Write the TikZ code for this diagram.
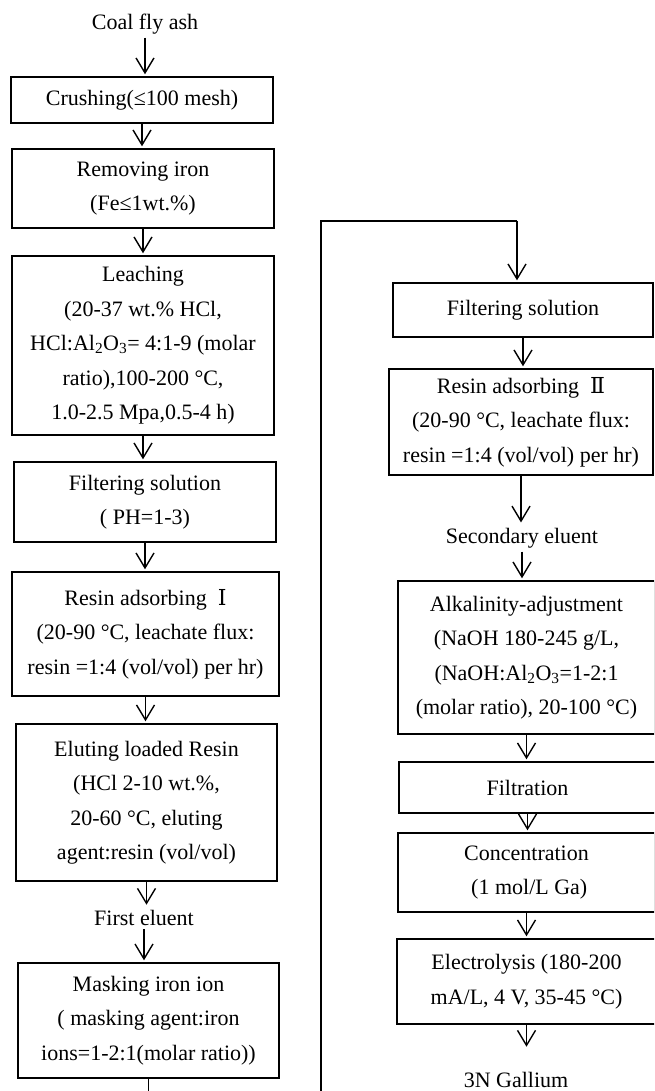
\documentclass[tikz,border=0pt]{standalone}
\usepackage{fontspec}
\setmainfont{Liberation Serif}
\newfontfamily\romanum{DejaVu Serif}
\usetikzlibrary{arrows.meta}
\begin{document}
\begin{tikzpicture}[x=1pt,y=-1pt,
  every node/.style={font=\fontsize{22}{34.5}\selectfont, align=center},
  stepbox/.style={draw, line width=1.4pt, inner sep=0pt},
  flow/.style={line width=1.4pt, -{Straight Barb[length=15pt,width=18pt]}, shorten >=2pt},
  wire/.style={line width=1.4pt}]
\useasboundingbox (0,0) rectangle (654,1091);
\clip (0,0) rectangle (654,1091);

% left column
\node (coal) at (145,24) {Coal fly ash};
\node[stepbox, minimum width=262pt, minimum height=46pt] (crush) at (142,100)
  {Crushing(≤100 mesh)};
\node[stepbox, minimum width=262pt, minimum height=79pt] (remove) at (143,188.5)
  {Removing iron\\(Fe≤1wt.\%)};
\node[stepbox, minimum width=262pt, minimum height=179pt] (leach) at (143,345.5)
  {Leaching\\(20-37 wt.\% HCl,\\HCl:Al\textsubscript{2}O\textsubscript{3}= 4:1-9 (molar\\ratio),100-200 °C,\\1.0-2.5 Mpa,0.5-4 h)};
\node[stepbox, minimum width=262pt, minimum height=80pt] (filtA) at (145,502)
  {Filtering solution\\( PH=1-3)};
\node[stepbox, minimum width=267pt, minimum height=124pt] (resinA) at (145.5,634)
  {Resin adsorbing\ \ {\romanum Ⅰ}\\(20-90 °C, leachate flux:\\resin =1:4 (vol/vol) per hr)};
\node[stepbox, minimum width=261pt, minimum height=157pt] (elute) at (146.5,802.5)
  {Eluting loaded Resin\\(HCl 2-10 wt.\%,\\20-60 °C, eluting\\agent:resin (vol/vol)};
\node (first) at (144,918) {First eluent};
\node[stepbox, minimum width=261pt, minimum height=115pt] (mask) at (148.5,1020.5)
  {Masking iron ion\\( masking agent:iron\\ions=1-2:1(molar ratio))};

% right column
\node[stepbox, minimum width=260pt, minimum height=54pt] (filtB) at (523,310)
  {Filtering solution};
\node[stepbox, minimum width=264pt, minimum height=106pt] (resinB) at (521,422)
  {Resin adsorbing\ \ {\romanum Ⅱ}\\(20-90 °C, leachate flux:\\resin =1:4 (vol/vol) per hr)};
\node (second) at (522,538) {Secondary eluent};
\node[stepbox, minimum width=257pt, minimum height=153pt] (alk) at (526.5,657.5)
  {Alkalinity-adjustment\\(NaOH 180-245 g/L,\\(NaOH:Al\textsubscript{2}O\textsubscript{3}=1-2:1\\(molar ratio), 20-100 °C)};
\node[stepbox, minimum width=257pt, minimum height=51pt] (filtr) at (527.5,787.5)
  {Filtration};
\node[stepbox, minimum width=257pt, minimum height=79pt] (conc) at (526.5,872.5)
  {Concentration\\\ (1 mol/L Ga)};
\node[stepbox, minimum width=259pt, minimum height=85pt] (elec) at (526.5,981.5)
  {Electrolysis (180-200\\mA/L, 4 V, 35-45 °C)};
\node (gallium) at (516,1080) {3N Gallium};

% left column arrows
\draw[flow] (coal.south) -- (coal.south |- crush.north);
\draw[flow] (crush.south) -- (crush.south |- remove.north);
\draw[flow] (remove.south) -- (remove.south |- leach.north);
\draw[flow] (leach.south) -- (leach.south |- filtA.north);
\draw[flow] (filtA.south) -- (filtA.south |- resinA.north);
\draw[flow] (resinA.south) -- (resinA.south |- elute.north);
\draw[flow] (elute.south) -- (elute.south |- first.north);
\draw[flow] (first.south) -- (first.south |- mask.north);

% loop from the bottom of the left column into the right column
\coordinate (turn) at (321,1110);
\coordinate (top) at (321,221);
\coordinate (entry) at (517,221);
\draw[wire] (mask.south) |- (turn) -- (top) -- (entry);
\draw[flow] (entry) -- (entry |- filtB.north);

% right column arrows
\draw[flow] (filtB.south) -- (filtB.south |- resinB.north);
\draw[flow] (resinB.south) -- (resinB.south |- second.north);
\draw[flow] (second.south) -- (second.south |- alk.north);
\draw[flow] (alk.south) -- (alk.south |- filtr.north);
\draw[flow] (filtr.south) -- (filtr.south |- conc.north);
\draw[flow] (conc.south) -- (conc.south |- elec.north);
\draw[flow] (elec.south) -- ++(0,24);
\end{tikzpicture}
\end{document}
